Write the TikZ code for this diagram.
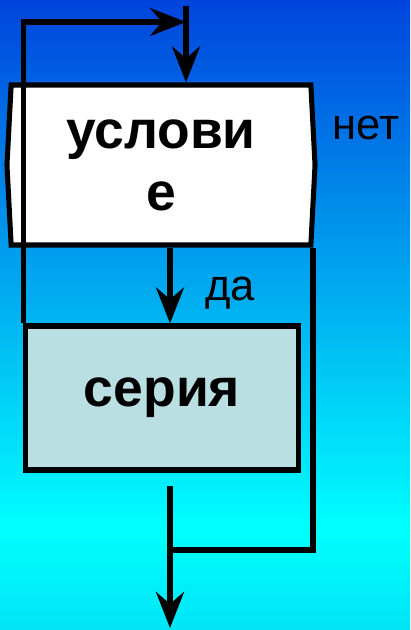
\documentclass[tikz,border=0pt]{standalone}
\usepackage{fontspec}
\setmainfont{Liberation Sans}
\usetikzlibrary{arrows.meta,positioning,shapes.symbols}
\definecolor{topblue}{RGB}{0,68,221}
\definecolor{bgcyan}{RGB}{0,255,255}
\definecolor{botcyan}{RGB}{0,228,245}
\definecolor{serfill}{RGB}{186,223,226}

\begin{document}
\begin{tikzpicture}[x=0.025cm, y=-0.025cm, line width=3.6pt]
	\tikzstyle{cond}=[draw, fill=white, signal, signal to=west and east, signal pointer angle=174, minimum width=7.7cm, minimum height=4cm, align=center, font=\fontsize{38}{44}\selectfont\bfseries]
	\tikzstyle{rect}=[draw, rectangle, fill=serfill, minimum width=6.8cm, minimum height=3.6cm, font=\fontsize{38}{44}\selectfont\bfseries]
	\tikzstyle{lbl}=[anchor=base, inner sep=0pt, font=\fontsize{31}{36}\selectfont]
	\tikzstyle{arr}=[-{Stealth[length=9mm, width=7mm, inset=3mm]}]
	
	% background
	\useasboundingbox (0,0) rectangle (410,630);
	\shade[top color=topblue, bottom color=bgcyan] (0,0) rectangle (410,530);
	\shade[top color=bgcyan, bottom color=botcyan] (0,530) rectangle (410,630);
	
	\node[cond] (cond) at (161,165) {услови\\е};
	\node[rect] (ser) at (162,398) {серия};
	\node[lbl] (net) at (366,140) {нет};
	\node[lbl] (da) at (230,300) {да};
	
	\coordinate (top) at (186,6);
	\coordinate (turn) at (186,22);
	\coordinate (mid) at (170,0);
	\coordinate (nobr) at (313,0);
	\coordinate (exit) at (170,486);
	\coordinate (join) at (170,550);
	\coordinate (out) at (170,628);
	
	\draw[arr] (top) -- (top |- cond.north);
	\draw[arr] (ser.north west) |- (turn);
	\draw[arr] (mid |- cond.south) -- (mid |- ser.north);
	\draw (nobr |- cond.south) |- (join);
	\draw[arr] (exit) -- (out);
\end{tikzpicture}
\end{document}
